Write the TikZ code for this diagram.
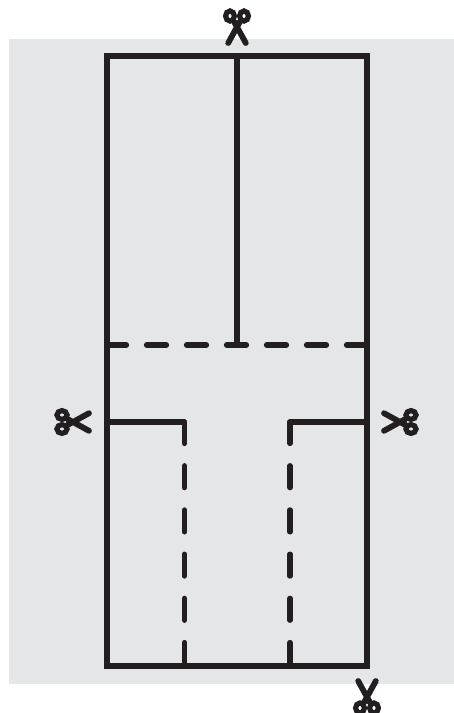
\documentclass[tikz,border=0pt]{standalone}
\definecolor{sheet}{RGB}{229,230,232}
\definecolor{ink}{RGB}{35,31,32}
\tikzset{
  cutline/.style={draw=ink,line width=5.2pt,line cap=round,line join=round},
  foldh/.style={cutline,dash pattern=on 20pt off 20pt,dash phase=0.5pt},
  foldv/.style={cutline,dash pattern=on 22pt off 22.2pt,dash phase=0.5pt},
  scissors/.pic={
    \draw[draw=ink,line width=5.8pt,line cap=round,line join=round]
      (-8.8,16) -- (3,-5.5) (8.8,16) -- (-3,-5.5);
    \draw[draw=ink,line width=5.2pt]
      (-7,-11) ellipse [x radius=4.4,y radius=5]
      (7,-11) ellipse [x radius=4.4,y radius=5];
  }
}
\begin{document}
\begin{tikzpicture}[x=1pt,y=-1pt]
\useasboundingbox (0,0) rectangle (454,713);
\clip (0,0) rectangle (454,713);
\fill[sheet] (9,39) rectangle (454,684);
\coordinate (tl) at (107,56);
\coordinate (tr) at (367,56);
\coordinate (bl) at (107,666);
\coordinate (br) at (367,666);
\coordinate (tm) at (237,56);
\coordinate (fl) at (107,345);
\coordinate (fm) at (237,345);
\coordinate (fr) at (367,345);
\coordinate (ll) at (107,422);
\coordinate (lc) at (184.5,422);
\coordinate (lb) at (184.5,666);
\coordinate (rr) at (367,422);
\coordinate (rc) at (290,422);
\coordinate (rb) at (290,666);
\draw[foldh] (fl) -- (fr);
\draw[foldv] (lc) -- (lb);
\draw[foldv] (rc) -- (rb);
\draw[cutline] (tm) -- (fm);
\draw[cutline] (ll) -- (lc) -- ++(0,2);
\draw[cutline] (rr) -- (rc) -- ++(0,2);
\draw[cutline,line cap=butt,line join=miter] (tl) -- (tr) -- (br) -- (bl) -- cycle;
\pic at (237,27) {scissors};
\pic[rotate=90] at (73,422) {scissors};
\pic[rotate=-90] at (400,422) {scissors};
\pic[rotate=180] at (367,697) {scissors};
\end{tikzpicture}
\end{document}
